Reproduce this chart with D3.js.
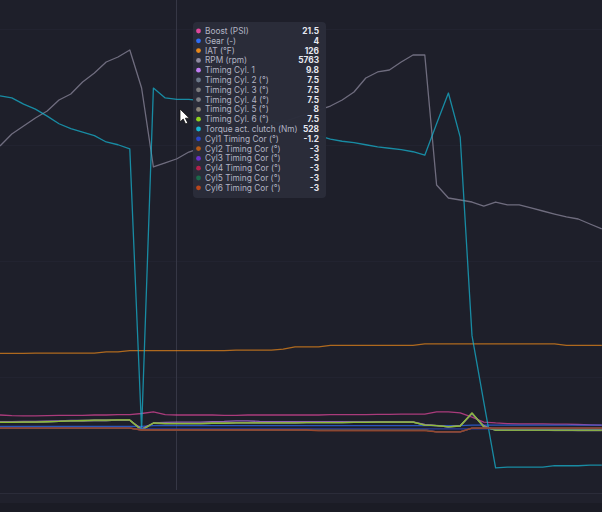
<!DOCTYPE html>
<html>
<head>
<meta charset="utf-8">
<script src="https://cdn.jsdelivr.net/npm/d3@7"></script>
<style>
  html, body { margin: 0; padding: 0; background: #1e1f2a; }
  #chart { width: 602px; height: 512px; }
  svg { display: block; }
</style>
</head>
<body>
<div id="chart"></div>
<script>
// ---- data: one sample per log row ----
const samples = [0,1,2,3,4,5,6,7,8,9,10,11,12,13,14,15,16,17,18,19,20,21,22,23,24,25,
  26,27,28,29,30,31,32,33,34,35,36,37,38,39,40,41,42,43,44,45,46,47,48,49,50,51];

const rpm = [5983,6190,6328,6466,6586,6776,6879,7086,7241,7431,7517,7638,6983,5621,5690,5763,
  5879,5948,6017,6069,6138,6207,6276,6328,6397,6466,6534,6603,6672,6776,6914,7155,7259,7293,
  7431,7552,7552,5310,5086,5052,5017,4948,5017,4966,4966,4914,4862,4810,4759,4724,4638,4552];

const torque = [533,530,521,514,504,493,486,481,476,467,463,457,55,544,530,528,528,526,521,517,
  513,508,503,497,491,486,480,476,471,468,466,463,460,458,456,453,448,493,537,474,190,95,1,2,
  2,2,2,4,4,4,5,5];

const iat = [125.3,125.3,125.3,125.4,125.4,125.4,125.4,125.4,125.4,125.8,125.8,126.2,126.2,126.2,
  126.2,126.2,126.2,126.2,126.2,126.2,126.4,126.4,126.4,126.4,126.7,127.4,127.4,127.4,127.9,127.9,
  127.9,127.9,127.9,127.9,127.9,127.9,128.4,128.4,128.4,128.4,128.4,128.4,128.4,128.4,128.4,128.4,
  128.4,128.4,127.9,127.9,127.9,127.9];

const boost = [21.5,20.5,20,20,20.5,21,21,21,21.5,21.5,22,22,24,26.5,22,21.5,21.5,21.5,21.5,21,
  21,21.5,21.5,21.5,21.5,21.5,21.5,21.5,22,22,22,22,22.5,22.5,23,23,23,26.5,26.5,25,18,10,8.5,
  7.5,7,7,7,6.5,6.5,6,5.5,5];

const gear = [3,3,3,3,3,3,3,3,3,3,3,3,3,4,4,4,4,4,4,4,4,4,4,4,4,4,4,4,4,4,4,4,4,4,4,4,4,4,4,4,
  5,5,5,5,5,5,5,5,5,5,5,5];

const timing1 = [10.5,10.5,11,11,11.5,12,12.5,12.5,13,13,13,13,-1,8.5,9.5,9.8,9.8,10,10.5,11,12,
  12,11,10.5,10.5,10.5,10.5,10.5,10.5,10.5,10.5,10.5,10.5,10.5,10,10,6,4,2,4,24,4,-3,-3,-3,-3,
  -3,-3,-3,-3,-3,-3];
const timing2 = [9.5,9.5,10,10,10.5,11,12,12,12.5,12.5,13,13,-3,8,7.5,7.5,7.5,7.5,8,8,8.5,8.5,
  8.5,8.5,8.5,8.5,9,9,9,9,9.5,9.5,10,10,10,10,5,4,2,3.5,24,2,-3,-3,-3,-3,-3,-4,-4,-4,-4,-4];
const timing3 = [9.5,9.5,10,10,10.5,11,12,12,12.5,12.5,13,13,-3,8,7.5,7.5,7.5,7.5,8,8,8.5,8.5,
  8.5,8.5,8.5,8.5,9,9,9,9,9.5,9.5,10,10,10,10,5,4,2,3.5,24,2,-3,-3,-3,-3,-3,-3,-3,-4,-4,-4];
const timing4 = [9.5,9.5,10,10,10.5,11,12,12,12.5,12.5,13,13,-3,8,7.5,7.5,7.5,7.5,8,8,8.5,8.5,
  8.5,8.5,8.5,8.5,9,9,9,9,9.5,9.5,10,10,10,10,5,4,2,3.5,24,2,-3,-3,-3,-3,-3,-3,-3,-3,-3,-3];
const timing5 = [10,10,10.5,10.5,11,11.5,12,12,12.5,12.5,13,13,-2.5,8.5,8,8,8,8,8.5,8.5,9,9,9,
  9,9,9,9.5,9.5,9.5,9.5,10,10,10.5,10.5,10.5,10.5,5.5,4.5,2.5,4,25,2.5,-2.5,-2.5,-2.5,-2.5,-2.5,
  -3,-3,-3,-3,-3];
const timing6 = [9.5,9.5,10,10,10.5,11,12,12.5,13,13,13.5,13.5,-3,8.5,7.5,7.5,7.5,7.5,8,8,8.5,
  8.5,8.5,8.5,8.5,8.5,9,9,9,9,9.5,9.5,10,10,10,10,5,4,2,3.5,25,2,-3,-3,-3,-3,-3,-3,-3,-3,-3,-3];

const cor1 = [0,0,0,0,0,0,0,0,0,0,0,0,-1.2,-1.2,-1.2,-1.2,-1.2,-1.2,-1.2,-1.2,-1.2,-1.2,-1.2,
  -1.2,-1.2,-1.2,-1.2,-1.2,-1.2,-1.2,-1.2,-1.2,-1.2,-1.2,-1.2,-1.2,-1.2,-1.2,-1.2,-1.2,-1.2,-1.2,
  -1.2,-1.2,-1.2,-1.2,-1.2,-1.2,-1.2,-1.2,-1.2,-1.2];
const cor2 = [0,0,0,0,0,0,0,0,0,0,0,0,-3,-3,-3,-3,-3,-3,-3,-3,-3,-3,-3,-3,-3,-3,-3,-3,-3,-3,-3,
  -3,-3,-3,-3,-3,-3,-6,-6,-6,0,0,0,0,0,0,0,0,0,0,0,0];
const cor3 = [0,0,0,0,0,0,0,0,0,0,0,0,-3,-3,-3,-3,-3,-3,-3,-3,-3,-3,-3,-3,-3,-3,-3,-3,-3,-3,-3,
  -3,-3,-3,-3,-3,-3,-6,-6,-6,0,0,0,0,0,0,0,0,0,0,0,0];
const cor4 = [0,0,0,0,0,0,0,0,0,0,0,0,-3,-3,-3,-3,-3,-3,-3,-3,-3,-3,-3,-3,-3,-3,-3,-3,-3,-3,-3,
  -3,-3,-3,-3,-3,-3,-6,-6,-6,0,0,0,0,0,0,0,0,0,0,0,0];
const cor5 = [0,0,0,0,0,0,0,0,0,0,0,0,-3,-3,-3,-3,-3,-3,-3,-3,-3,-3,-3,-3,-3,-3,-3,-3,-3,-3,-3,
  -3,-3,-3,-3,-3,-3,-6,-6,-6,0,0,0,0,0,0,0,0,0,0,0,0];
const cor6 = [0,0,0,0,0,0,0,0,0,0,0,0,-3,-3,-3,-3,-3,-3,-3,-3,-3,-3,-3,-3,-3,-3,-3,-4.5,-4.5,
  -4.5,-4.5,-4.5,-4.5,-4.5,-4.5,-4.5,-4.5,-6,-6,-6,0,0,0,0,0,0,0,0,0,0,0,0];

// tooltip snapshot (cursor sample)
const hoverIndex = 15;
const tipValues = ['21.5','4','126','5763','9.8','7.5','7.5','7.5','8','7.5','528','-1.2','-3','-3','-3','-3','-3'];

// ---- series list (legend order = draw order) ----
const series = [
  {name:'Boost (PSI)',            values:boost,   color:'#e0479b', axis:'misc'},
  {name:'Gear (-)',               values:gear,    color:'#2f6cf5', axis:'misc'},
  {name:'IAT (\u00b0F)',          values:iat,     color:'#e8871a', axis:'iat'},
  {name:'RPM (rpm)',              values:rpm,     color:'#8f8aa0', axis:'rpm'},
  {name:'Timing Cyl. 1',          values:timing1, color:'#c17cf2', axis:'misc'},
  {name:'Timing Cyl. 2 (\u00b0)', values:timing2, color:'#6c7889', axis:'misc'},
  {name:'Timing Cyl. 3 (\u00b0)', values:timing3, color:'#7b7b7d', axis:'misc'},
  {name:'Timing Cyl. 4 (\u00b0)', values:timing4, color:'#7e7e84', axis:'misc'},
  {name:'Timing Cyl. 5 (\u00b0)', values:timing5, color:'#8c8579', axis:'misc'},
  {name:'Timing Cyl. 6 (\u00b0)', values:timing6, color:'#8fd21d', axis:'misc'},
  {name:'Torque act. clutch (Nm)',values:torque,  color:'#16b6d3', axis:'torque'},
  {name:'Cyl1 Timing Cor (\u00b0)',values:cor1,   color:'#2b46c9', axis:'misc'},
  {name:'Cyl2 Timing Cor (\u00b0)',values:cor2,   color:'#b65a16', axis:'misc'},
  {name:'Cyl3 Timing Cor (\u00b0)',values:cor3,   color:'#6a30cc', axis:'misc'},
  {name:'Cyl4 Timing Cor (\u00b0)',values:cor4,   color:'#b3214c', axis:'misc'},
  {name:'Cyl5 Timing Cor (\u00b0)',values:cor5,   color:'#1b6a4a', axis:'misc'},
  {name:'Cyl6 Timing Cor (\u00b0)',values:cor6,   color:'#b9461c', axis:'misc'}
];

// ----------------------------------
// SETUP
// ----------------------------------
const width = 602, height = 512;
const plotBottom = 493;

const svg = d3.select('#chart').append('svg')
  .attr('width', width)
  .attr('height', height);

svg.append('rect').attr('width', width).attr('height', height).attr('fill', '#1e1f2a');

// bottom strip under the plot
svg.append('rect').attr('x', 0).attr('y', plotBottom).attr('width', width).attr('height', height - plotBottom).attr('fill', '#20212c');
svg.append('rect').attr('x', 0).attr('y', plotBottom + 10).attr('width', width).attr('height', height - plotBottom - 10).attr('fill', '#1b1c25');
svg.append('line').attr('x1', 0).attr('x2', width).attr('y1', plotBottom + 0.5).attr('y2', plotBottom + 0.5)
  .attr('stroke', '#2b2c39').attr('stroke-width', 1);

// scales
const x = d3.scaleLinear().domain([0, 51]).range([0, 601.8]);
const yScales = {
  rpm:    d3.scaleLinear().domain([0, 8500]).range([plotBottom, 0]),
  torque: d3.scaleLinear().domain([-35, 670]).range([plotBottom, 0]),
  iat:    d3.scaleLinear().domain([80, 240]).range([plotBottom, 0]),
  misc:   d3.scaleLinear().domain([-106, 700]).range([plotBottom, 0])
};

// faint grid
const grid = svg.append('g').attr('class', 'grid');
grid.selectAll('line.h')
  .data(yScales.rpm.ticks(4).filter(d => d > 0))
  .enter().append('line')
    .attr('x1', 0).attr('x2', width)
    .attr('y1', d => Math.round(yScales.rpm(d)) + 0.5)
    .attr('y2', d => Math.round(yScales.rpm(d)) + 0.5)
    .attr('stroke', '#222330').attr('stroke-width', 1);

// crosshair at hovered sample
svg.append('line')
  .attr('x1', Math.round(x(samples[hoverIndex]) - 1) + 0.5)
  .attr('x2', Math.round(x(samples[hoverIndex]) - 1) + 0.5)
  .attr('y1', 0).attr('y2', plotBottom - 3)
  .attr('stroke', '#363745').attr('stroke-width', 1);

// ----------------------------------
// DRAW THE LINES
// ----------------------------------
const lines = svg.append('g').attr('class', 'lines');
series.forEach(s => {
  const yS = yScales[s.axis];
  const line = d3.line()
    .x((d, i) => x(samples[i]))
    .y(d => yS(d));
  lines.append('path')
    .datum(s.values)
    .attr('d', line)
    .attr('fill', 'none')
    .attr('stroke', s.color)
    .attr('stroke-opacity', 0.72)
    .attr('stroke-width', 1.3)
    .attr('stroke-linejoin', 'round');
});

// ----------------------------------
// TOOLTIP
// ----------------------------------
const tip = svg.append('g').attr('transform', 'translate(193,22)');
tip.append('rect')
  .attr('width', 133).attr('height', 176).attr('rx', 4)
  .attr('fill', '#2a2c3a').attr('fill-opacity', 0.97);

const rows = tip.selectAll('g.row')
  .data(series)
  .enter().append('g')
    .attr('class', 'row')
    .attr('transform', (d, i) => `translate(0,${9 + i * 9.8})`);

rows.append('circle')
  .attr('cx', 5.5).attr('cy', 0).attr('r', 2.4)
  .attr('fill', d => d.color);

rows.append('text')
  .text(d => d.name)
  .attr('x', 12).attr('y', 0).attr('dy', '0.35em')
  .style('font-family', 'Inter, "Noto Sans", sans-serif')
  .style('font-size', '8.3px')
  .style('fill', '#b3b5c4');

rows.append('text')
  .text((d, i) => tipValues[i])
  .attr('x', 126).attr('y', 0).attr('dy', '0.35em')
  .attr('text-anchor', 'end')
  .style('font-family', 'Inter, "Noto Sans", sans-serif')
  .style('font-size', '8.3px')
  .style('font-weight', 'bold')
  .style('fill', '#e6e8f0');

// mouse pointer
svg.append('path')
  .attr('d', 'M0,0 L0,13 L3.2,10 L5.6,15 L7.8,14 L5.4,9.2 L9.4,9.2 Z')
  .attr('transform', 'translate(180,109)')
  .attr('fill', '#ffffff').attr('stroke', '#111111').attr('stroke-width', 0.8);
</script>
</body>
</html>
